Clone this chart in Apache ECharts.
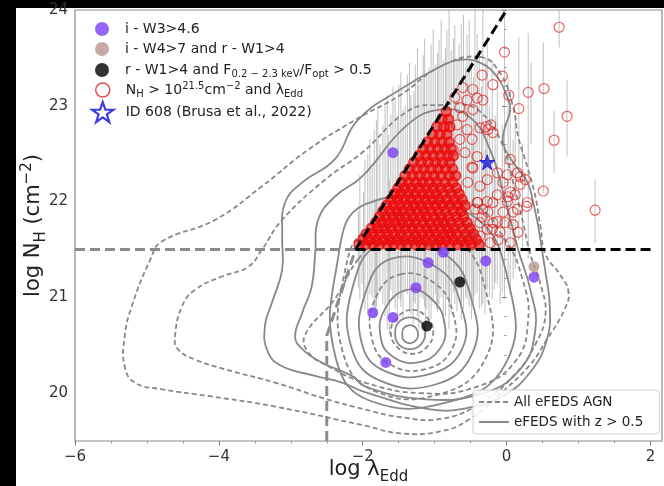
<!DOCTYPE html>
<html><head><meta charset="utf-8">
<script src="https://cdn.jsdelivr.net/npm/echarts@6/dist/echarts.min.js"></script>
<style>
html,body{margin:0;padding:0;background:#000;}
#bg{position:absolute;left:16px;top:8px;width:648px;height:478px;background:#fff;}
#chart{position:absolute;left:0;top:0;width:664px;height:486px;}
</style></head><body>
<div id="bg"></div><div id="chart"></div>
<script>
// ---------- axis ticks ----------
const xTicks = [-6, -4, -2, 0, 2];
const xMinorTicks = [-5.5, -5, -4.5, -3.5, -3, -2.5, -1.5, -1, -0.5, 0.5, 1, 1.5];
const yTicks = [20, 21, 22, 23, 24];
const yMinorTicks = [19.6, 19.8, 20.2, 20.4, 20.6, 20.8, 21.2, 21.4, 21.6, 21.8, 22.2, 22.4, 22.6, 22.8, 23.2, 23.4, 23.6, 23.8];

// ---------- reference lines ----------
const refGrayH = [[-6, 21.5], [-2.1, 21.5]];
const refGrayV = [[-2.5, 19.5], [-2.5, 20.6], [-2.1, 21.5]];
const refBlackH = [[-2.1, 21.5], [2.0, 21.5]];
const refBlackD = [[-2.1, 21.5], [0.0, 24.0]];

// ---------- contours: All eFEDS AGN (dashed) ----------
const dashD1 = [[-0.37,23.51],[-0.09,23.34],[0.09,22.99],[0.16,22.68],[0.29,22.36],[0.40,22.05],[0.47,21.74],[0.54,21.45],[0.74,21.24],[0.86,21.06],[0.81,20.88],[0.56,20.56],[0.33,20.30],[-0.02,20.04],[-0.51,19.73],[-0.92,19.60],[-1.48,19.58],[-1.97,19.66],[-3.22,19.86],[-4.15,19.97],[-4.79,20.04],[-5.17,20.11],[-5.31,20.28],[-5.31,20.59],[-5.21,20.91],[-4.95,21.40],[-4.80,21.58],[-4.05,21.81],[-3.40,22.16],[-2.76,22.54],[-2.11,22.85],[-1.48,23.11],[-0.92,23.41]];
const dashD2 = [[-0.88,23.01],[-1.34,22.96],[-2.01,22.51],[-2.52,22.23],[-3.12,21.81],[-3.40,21.50],[-3.59,21.32],[-3.95,21.22],[-4.33,21.08],[-4.51,20.91],[-4.61,20.59],[-4.57,20.46],[-4.33,20.35],[-3.92,20.25],[-3.22,20.11],[-2.52,19.94],[-1.97,19.83],[-1.48,19.75],[-0.92,19.73],[-0.37,19.89],[0.12,20.20],[0.40,20.51],[0.54,20.82],[0.47,21.14],[0.33,21.45],[0.22,21.81],[0.08,22.23],[-0.09,22.65],[-0.37,22.94],[-0.65,23.02]];
const dashD3 = [[-2.06,21.40],[-2.39,20.98],[-2.80,20.61],[-2.76,20.43],[-2.48,20.28],[-1.97,20.11],[-1.20,20.00],[-0.44,20.06],[0.12,20.33],[0.30,20.77],[0.22,21.19],[-0.02,21.60],[-0.51,21.97],[-1.48,21.86]];
const dashCc = [[-1.31,20.87],[-1.11,20.79],[-1.02,20.64],[-1.11,20.48],[-1.31,20.41],[-1.52,20.48],[-1.61,20.64],[-1.52,20.79]];
const dashCe = [[-1.48,21.24],[-0.99,21.14],[-0.74,20.82],[-0.76,20.46],[-1.13,20.25],[-1.62,20.30],[-1.87,20.56],[-1.83,20.98]];
const dashCh = [[-1.90,21.71],[-0.72,21.60],[-0.26,20.98],[-0.30,20.35],[-0.93,19.99],[-1.83,20.02],[-2.27,20.41],[-2.27,21.19]];

// ---------- contours: eFEDS with z > 0.5 (solid) ----------
const solidS6 = [[-0.65,23.48],[-0.37,23.45],[-0.13,23.30],[0.01,23.09],[0.05,22.96],[-0.02,22.78],[-0.05,22.61],[0.09,22.41],[0.29,22.20],[0.37,21.99],[0.44,21.74],[0.49,21.50],[0.54,21.26],[0.60,20.91],[0.56,20.56],[0.33,20.22],[-0.05,19.97],[-0.51,19.85],[-1.06,19.83],[-1.97,20.01],[-2.29,20.11],[-2.66,20.18],[-3.12,20.28],[-3.32,20.43],[-3.36,20.70],[-3.26,20.95],[-3.12,21.29],[-3.12,21.64],[-3.08,21.99],[-2.84,22.20],[-2.39,22.44],[-2.07,22.85],[-1.48,23.17],[-0.92,23.41]];
const solidS5 = [[-2.01,22.26],[-2.39,22.05],[-2.62,21.81],[-2.66,21.47],[-2.71,21.11],[-2.84,20.84],[-2.94,20.59],[-2.84,20.46],[-2.57,20.32],[-2.15,20.18],[-1.97,20.07],[-1.20,19.94],[-0.37,19.99],[0.19,20.25],[0.40,20.67],[0.33,21.08],[0.16,21.50],[-0.02,22.02],[-0.23,22.54],[-0.51,22.88],[-0.92,22.96],[-1.38,22.80]];
const solidCa = [[-1.34,20.71],[-1.26,20.68],[-1.23,20.61],[-1.26,20.55],[-1.34,20.52],[-1.43,20.55],[-1.45,20.61],[-1.43,20.68]];
const solidCb = [[-1.34,20.79],[-1.19,20.74],[-1.13,20.63],[-1.19,20.51],[-1.34,20.46],[-1.50,20.51],[-1.55,20.63],[-1.50,20.74]];
const solidCd = [[-1.37,21.08],[-1.04,20.98],[-0.86,20.72],[-0.93,20.46],[-1.23,20.32],[-1.58,20.38],[-1.75,20.58],[-1.69,20.88]];
const solidCf = [[-1.62,21.40],[-0.93,21.29],[-0.62,20.88],[-0.62,20.46],[-1.06,20.20],[-1.69,20.23],[-2.01,20.51],[-1.97,21.03]];
const solidCg = [[-1.76,21.55],[-0.86,21.45],[-0.47,20.93],[-0.48,20.41],[-0.99,20.09],[-1.76,20.13],[-2.15,20.46],[-2.15,21.08]];
const solidCi = [[-1.97,21.97],[-0.51,21.87],[0.05,21.08],[-0.02,20.30],[-0.79,19.91],[-1.90,19.92],[-2.37,20.35],[-2.37,21.29]];

const contoursDashed = [dashD1, dashD2, dashD3, dashCc, dashCe, dashCh];
const contoursSolid = [solidS6, solidS5, solidCa, solidCb, solidCd, solidCf, solidCg, solidCi];

// ---------- error bars (x, low, high) ----------
const errX = [-2.04,-1.97,-1.90,-1.84,-1.79,-1.72,-1.66,-1.61,-1.55,-1.50,-1.44,-1.38,-1.33,-1.27,-1.22,-1.16,-1.11,-1.05,-0.99,-0.94,-0.88,-0.83,-0.77,-0.72,-0.66,-0.60,-0.55,-0.49,-0.44,-0.38,-0.33,-0.27,-0.20,-0.13,-0.03,0.05,0.17,0.30,0.51,0.73,0.84,1.23,0.66,-2.01,-1.82,-1.63,-1.47,-1.30,-1.13,-0.97,-0.80,-0.63,-0.47,-0.30,-0.17,-0.09,0.09,
  -2.06,-1.99,-1.93,-1.87,-1.81,-1.76,-1.69,-1.64,-1.58,-1.52,-1.47,-1.41,-1.35,-1.29,-1.24,-1.19,-1.14,-1.08,-1.02,-0.96,-0.91,-0.85,-0.80,-0.74,-0.69,-0.63,-0.57,-0.52,-0.46,-0.41,-0.35,-0.29,-0.24,-0.16,-0.06,0.02,0.12,0.22,0.34];
const errHi = [22.28,22.44,22.65,22.75,22.96,22.80,23.11,22.91,23.06,23.22,22.96,23.32,23.11,23.43,23.22,23.53,23.32,23.64,23.43,23.69,23.48,23.79,23.58,23.84,23.64,23.95,23.74,23.48,24.0,23.58,24.0,23.69,23.48,23.27,24.0,23.17,23.72,23.76,23.66,24.0,23.27,22.23,22.95,21.71,22.02,22.23,22.13,22.33,22.44,22.54,22.65,22.75,22.65,22.54,22.33,22.23,22.65,
  21.90,22.10,22.50,22.35,22.85,22.60,23.00,22.70,23.20,22.90,23.35,23.00,23.45,23.15,23.60,23.30,23.70,23.40,23.80,23.55,23.90,23.60,24.00,23.70,23.50,23.85,23.40,23.90,23.30,23.75,23.20,23.50,23.00,22.90,22.80,23.30,22.90,22.60,23.45];
const errLo = [20.98,20.88,21.03,20.77,20.98,20.93,20.67,21.08,20.88,20.98,20.77,21.03,20.82,20.93,20.67,20.98,20.88,20.77,21.03,20.93,20.72,20.98,20.82,20.93,21.08,20.88,20.98,20.77,21.03,20.88,20.93,21.08,20.98,21.14,20.98,21.03,21.60,21.40,22.09,23.61,22.47,21.57,22.30,21.14,20.82,20.61,20.98,20.72,20.56,20.88,20.67,20.77,20.98,20.82,21.08,20.93,21.19,
  21.10,20.95,20.85,21.00,20.90,21.05,20.80,20.95,21.00,20.75,20.90,21.05,20.85,20.95,20.80,21.00,20.90,20.70,20.95,20.85,21.00,20.80,20.90,21.05,20.85,20.95,21.00,20.90,20.95,21.05,20.90,21.10,21.00,21.15,21.05,21.20,21.30,21.50,22.60];

// ---------- red open circles (N_H > 10^21.5): dense rows ----------
const denseY = [21.55,21.60,21.66,21.72,21.78,21.84,21.90,21.96,22.02,22.08,22.14,22.20,22.27,22.34,22.41,22.48,22.55,22.62,22.70,22.78,22.86,22.94];
const denseX = [
 [-2.05,-1.96,-1.86,-1.77,-1.66,-1.57,-1.47,-1.38,-1.27,-1.18,-1.08,-0.98,-0.89,-0.79,-0.68,-0.58,-0.49,-0.38],
 [-2.00,-1.91,-1.81,-1.71,-1.62,-1.52,-1.42,-1.32,-1.23,-1.13,-1.03,-0.93,-0.84,-0.74,-0.63,-0.53,-0.42],
 [-1.95,-1.86,-1.76,-1.66,-1.56,-1.47,-1.37,-1.27,-1.17,-1.08,-0.98,-0.88,-0.78,-0.69,-0.57,-0.46],
 [-1.88,-1.79,-1.70,-1.61,-1.50,-1.41,-1.31,-1.22,-1.11,-1.02,-0.92,-0.82,-0.73,-0.62,-0.51],
 [-1.82,-1.73,-1.64,-1.55,-1.45,-1.36,-1.26,-1.16,-1.06,-0.96,-0.87,-0.77,-0.66,-0.55],
 [-1.77,-1.68,-1.58,-1.49,-1.40,-1.30,-1.20,-1.11,-1.01,-0.91,-0.81,-0.70,-0.60],
 [-1.72,-1.62,-1.53,-1.44,-1.34,-1.24,-1.15,-1.05,-0.95,-0.85,-0.74,-0.63],
 [-1.67,-1.57,-1.48,-1.38,-1.29,-1.19,-1.09,-0.99,-0.89,-0.79,-0.68,-0.58],
 [-1.61,-1.52,-1.42,-1.33,-1.23,-1.13,-1.03,-0.94,-0.83,-0.72,-0.62],
 [-1.56,-1.47,-1.37,-1.27,-1.17,-1.08,-0.98,-0.88,-0.77,-0.66],
 [-1.51,-1.42,-1.32,-1.22,-1.12,-1.02,-0.92,-0.81,-0.70],
 [-1.46,-1.36,-1.26,-1.17,-1.07,-0.97,-0.86,-0.75],
 [-1.41,-1.31,-1.21,-1.11,-1.01,-0.91,-0.80,-0.71],
 [-1.35,-1.25,-1.15,-1.05,-0.95,-0.85,-0.75],
 [-1.29,-1.19,-1.09,-0.99,-0.89,-0.79],
 [-1.22,-1.12,-1.02,-0.92,-0.82,-0.74],
 [-1.16,-1.06,-0.96,-0.86,-0.77],
 [-1.10,-1.00,-0.90,-0.80],
 [-1.03,-0.93,-0.83],
 [-0.97,-0.87,-0.79],
 [-0.90,-0.81],
 [-0.84]
];
const redSparse = [[0.73,23.82],[-0.03,23.56],[-0.34,23.32],[-0.06,23.31],[-0.19,23.22],[0.03,23.11],[0.30,23.14],[0.52,23.18],[0.17,22.97],[0.84,22.89],[0.66,22.64],[-0.22,22.80],[-0.29,22.78],[-0.19,22.72],[0.05,22.44],[-0.13,22.30],[0.01,22.28],[0.15,22.30],[0.26,22.23],[0.19,22.18],[0.51,22.11],[1.23,21.91],[-0.13,22.07],[0.05,22.10],[0.12,22.07],[0.28,21.95],[0.01,22.00],[-0.27,22.00],[-0.40,21.99],[-0.05,21.89],[0.09,21.89],[-0.26,21.89],[-0.19,21.78],[0.09,21.76],[-0.02,21.78],[0.16,21.68],[-0.20,21.71],[-0.37,21.64],[-0.12,21.60],[0.05,21.57],[-0.51,21.71],[-0.34,21.84],[-0.44,21.92],[-0.37,22.16],[-0.47,22.35],[-0.54,22.20],[-0.47,23.17],[-0.61,23.19],[-0.41,23.08],[-0.33,23.06],[-0.55,23.06],[-0.65,22.98],[-0.72,23.09],[-0.47,22.96],[-0.61,22.89],[-0.69,22.80],[-0.55,22.75],[-0.37,22.77],[-0.26,22.75],[-0.48,22.65],[-0.65,22.65],[-0.74,22.54],[-0.58,22.51],[-0.41,22.47],[-0.48,22.36],[-0.27,22.23],[-0.05,22.20],[0.19,22.26],[0.02,22.05],[0.15,21.92],[0.29,21.99],[-0.19,21.99],[-0.33,21.92],[-0.41,21.99],[-0.27,21.71],[-0.09,21.68],[-0.13,21.79],[-0.37,21.78],[-0.51,21.68],[-0.23,21.57],[-0.47,21.57]];

// ---------- other samples ----------
const purplePts = [[-1.58,22.51],[-0.88,21.47],[-1.09,21.36],[-0.29,21.38],[-1.26,21.10],[-1.86,20.84],[-1.58,20.79],[-1.68,20.32],[0.38,21.21]];
const brownPts = [[0.38,21.32]];
const blackPts = [[-0.65,21.16],[-1.11,20.70]];
const starPts = [[-0.27,22.41]];

// ---------- build ----------
const FONT = 'DejaVu Sans';
const chart = echarts.init(document.getElementById('chart'));
const fmt = v => (v < 0 ? '\u2212' + Math.abs(v) : String(v));
const starPath = 'path://M50,2 L61.8,36.2 L97.6,36.2 L68.6,57.4 L79.6,91.6 L50,70.4 L20.4,91.6 L31.4,57.4 L2.4,36.2 L38.2,36.2 Z';

const denseData = [];
denseY.forEach((y, i) => denseX[i].forEach(x => denseData.push([x, y])));

const axisRich = {
  n: {fontFamily: FONT, fontSize: 21, lineHeight: 24, verticalAlign: 'middle', color: '#222'},
  s: {fontFamily: FONT, fontSize: 15, lineHeight: 18, padding: [14, 0, 0, 0], verticalAlign: 'middle', color: '#222'},
  p: {fontFamily: FONT, fontSize: 15, lineHeight: 18, padding: [0, 0, 14, 0], verticalAlign: 'middle', color: '#222'}
};
const legRich = {
  n: {fontFamily: FONT, fontSize: 14, lineHeight: 16, verticalAlign: 'middle', color: '#222'},
  s: {fontFamily: FONT, fontSize: 10, lineHeight: 12, padding: [8, 0, 0, 0], verticalAlign: 'middle', color: '#222'},
  p: {fontFamily: FONT, fontSize: 10, lineHeight: 12, padding: [0, 0, 8, 0], verticalAlign: 'middle', color: '#222'}
};

function oneLegend(name, left, top, text, iw, ih, pad, extra) {
  const item = Object.assign({name: name}, extra || {});
  return {data: [item], left: left, top: top, orient: 'vertical', padding: 0,
    itemWidth: iw, itemHeight: ih, selectedMode: false,
    formatter: () => text, textStyle: {padding: [0, 0, 0, pad], rich: legRich}};
}

function contourSeries(list, dashed) {
  return {
    type: 'custom', z: 2, silent: true,
    data: list.map((c, i) => [c[0][0], c[0][1], i]),
    renderItem: (params, api) => {
      const pts = list[api.value(2)].map(p => api.coord(p));
      return {type: 'polygon', shape: {points: pts, smooth: 0.45},
        style: {fill: 'none', stroke: '#888', lineWidth: 1.8, lineDash: dashed ? [5, 3] : null}};
    }
  };
}

const hiddenSymbol = {color: 'rgba(0,0,0,0)', borderWidth: 0, opacity: 0};

const option = {
  animation: false,
  backgroundColor: 'transparent',
  grid: {left: 75, top: 10, right: 2, bottom: 45, show: true, borderColor: '#8a8a8a', borderWidth: 1.2,
         containLabel: false, outerBoundsMode: 'none'},
  xAxis: [
    {type: 'value', min: -6, max: 2.16, position: 'bottom',
     axisLine: {show: false}, splitLine: {show: false},
     axisTick: {show: true, customValues: xTicks, length: 4.5, lineStyle: {color: '#777'}},
     axisLabel: {customValues: xTicks, formatter: fmt, fontFamily: FONT, fontSize: 15, color: '#333', margin: 9},
     name: '{n|log λ}{s|Edd}', nameLocation: 'middle', nameGap: 17, nameMoveOverlap: false,
     nameTextStyle: {rich: axisRich}},
    {type: 'value', min: -6, max: 2.16, position: 'bottom',
     axisLine: {show: false}, splitLine: {show: false},
     axisTick: {show: true, customValues: xMinorTicks, length: 2.5, lineStyle: {color: '#999'}},
     axisLabel: {show: false}}
  ],
  yAxis: [
    {type: 'value', min: 19.5, max: 24, position: 'left',
     axisLine: {show: false}, splitLine: {show: false},
     axisTick: {show: true, customValues: yTicks, length: 4.5, lineStyle: {color: '#777'}},
     axisLabel: {customValues: yTicks, formatter: fmt, fontFamily: FONT, fontSize: 15, color: '#333', margin: 7},
     name: '{n|log N}{s|H}{n| (cm}{p|\u22122}{n|)}', nameLocation: 'middle', nameGap: 29, nameMoveOverlap: false,
     nameTextStyle: {rich: axisRich}},
    {type: 'value', min: 19.5, max: 24, position: 'left',
     axisLine: {show: false}, splitLine: {show: false},
     axisTick: {show: true, customValues: yMinorTicks, length: 2.5, lineStyle: {color: '#999'}},
     axisLabel: {show: false}}
  ],
  legend: [
    oneLegend('W3', 95, 22, '{n|i - W3>4.6}', 14, 14, 11),
    oneLegend('W4', 95, 42, '{n|i - W4>7 and r - W1>4}', 14, 14, 11),
    oneLegend('FX', 95, 61, '{n|r - W1>4 and F}{s|0.2 \u2212 2.3 keV}{n|/F}{s|opt}{n| > 0.5}', 14, 14, 11),
    oneLegend('NH', 95, 81, '{n|N}{s|H}{n| > 10}{p|21.5}{n|cm}{p|\u22122}{n| and λ}{s|Edd}', 14, 14, 11,
      {itemStyle: {color: 'rgba(0,0,0,0)', borderColor: '#e02020', borderWidth: 1.5}}),
    oneLegend('ID608', 91, 101, '{n|ID 608 (Brusa et al., 2022)}', 22, 20, 7,
      {icon: starPath, itemStyle: {color: 'rgba(0,0,0,0)', borderColor: '#0a0ad8', borderWidth: 2.2}}),
    {data: [{name: 'All eFEDS AGN', itemStyle: hiddenSymbol}, {name: 'eFEDS with z > 0.5', itemStyle: hiddenSymbol}],
     left: 473, top: 390, orient: 'vertical',
     padding: [5, 16, 5, 5], itemGap: 6, itemWidth: 30, itemHeight: 14, selectedMode: false,
     borderColor: '#d0d0d0', borderWidth: 1, borderRadius: 3, backgroundColor: 'rgba(255,255,255,0.85)',
     textStyle: {fontFamily: FONT, fontSize: 13.5, color: '#222', lineHeight: 14}}
  ],
  series: [
    {type: 'custom', z: 1, silent: true,
     data: errX.map((x, i) => [x, errLo[i], errHi[i]]),
     renderItem: (params, api) => {
       const a = api.coord([api.value(0), api.value(1)]);
       const b = api.coord([api.value(0), api.value(2)]);
       return {type: 'line', shape: {x1: a[0], y1: a[1], x2: b[0], y2: b[1]},
         style: {stroke: 'rgba(140,140,140,0.55)', lineWidth: 1}};
     }},
    contourSeries(contoursDashed, true),
    contourSeries(contoursSolid, false),
    {name: 'All eFEDS AGN', type: 'line', data: [], symbol: 'none', z: 2,
     lineStyle: {color: '#888', width: 2, type: [5, 3]}, itemStyle: {color: '#888'}},
    {name: 'eFEDS with z > 0.5', type: 'line', data: [], symbol: 'none', z: 2,
     lineStyle: {color: '#888', width: 2}, itemStyle: {color: '#888'}},
    {name: 'NH', type: 'scatter', z: 3, silent: true, data: denseData, symbol: 'circle', symbolSize: 10,
     itemStyle: {color: 'rgba(240,12,12,0.72)', borderColor: 'rgba(232,10,10,0.95)', borderWidth: 1.6}},
    {name: 'NH', type: 'scatter', z: 3, silent: true, data: redSparse, symbol: 'circle', symbolSize: 10,
     itemStyle: {color: 'rgba(0,0,0,0)', borderColor: 'rgba(222,30,30,0.85)', borderWidth: 1.2}},
    {type: 'line', z: 4, silent: true, data: refGrayH, symbol: 'none', lineStyle: {color: '#8c8c8c', width: 3, type: [10, 5]}},
    {type: 'line', z: 4, silent: true, data: refGrayV, symbol: 'none', lineStyle: {color: '#8c8c8c', width: 3, type: [10, 5]}},
    {type: 'line', z: 4, silent: true, data: refBlackH, symbol: 'none', lineStyle: {color: '#000', width: 3, type: [10, 5]}},
    {type: 'line', z: 4, silent: true, data: refBlackD, symbol: 'none', lineStyle: {color: '#000', width: 3, type: [10, 5]}},
    {name: 'W3', type: 'scatter', z: 5, silent: true, data: purplePts, symbolSize: 11, itemStyle: {color: '#7a3ef2'}},
    {name: 'W4', type: 'scatter', z: 5, silent: true, data: brownPts, symbolSize: 11, itemStyle: {color: '#b8958e'}},
    {name: 'FX', type: 'scatter', z: 5, silent: true, data: blackPts, symbolSize: 11, itemStyle: {color: '#000'}},
    {name: 'ID608', type: 'scatter', z: 6, silent: true, data: starPts, symbol: starPath, symbolSize: 15,
     itemStyle: {color: '#1c1cc8', borderColor: '#0a0ae8', borderWidth: 1}}
  ]
};
chart.setOption(option);
</script></body></html>
